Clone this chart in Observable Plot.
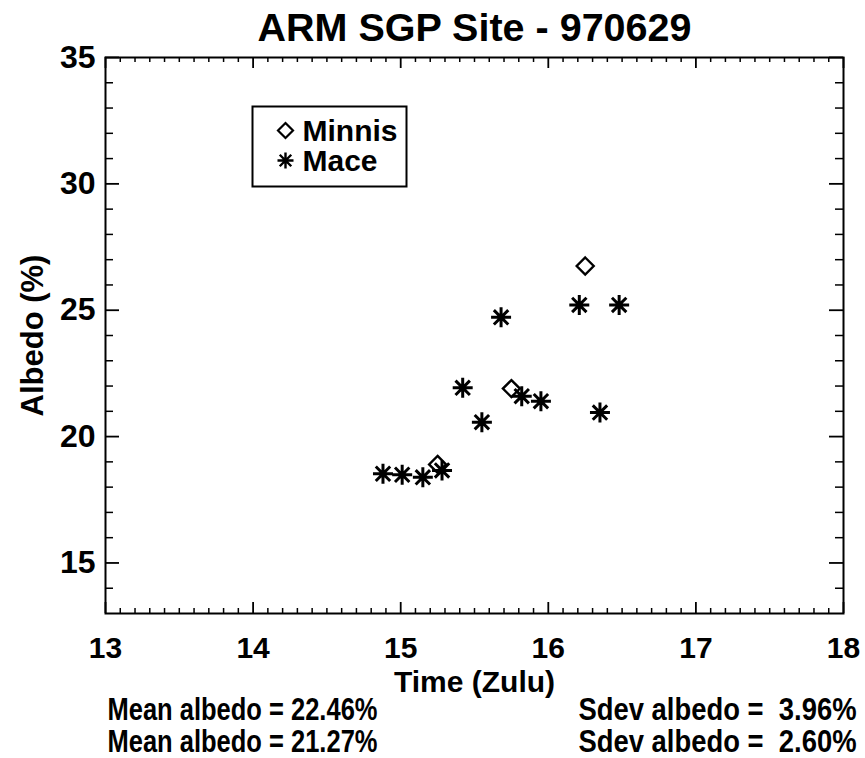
<!DOCTYPE html>
<html><head><meta charset="utf-8">
<script src="https://cdn.jsdelivr.net/npm/d3@7"></script>
<script src="https://cdn.jsdelivr.net/npm/@observablehq/plot@0.6"></script>
<style>
body{margin:0;background:#fff}
#chart svg{font-family:"Liberation Sans",Arial,Helvetica,sans-serif;background:#fff}
</style>
</head><body><div id="chart"></div>
<script>
// ---- data ----
const minnisTime   = [15.25, 15.75, 16.25];
const minnisAlbedo = [18.9, 21.9, 26.75];
const maceTime     = [14.88, 15.01, 15.15, 15.28, 15.42, 15.55, 15.68, 15.82, 15.95, 16.21, 16.35, 16.48];
const maceAlbedo   = [18.53, 18.49, 18.39, 18.66, 21.93, 20.57, 24.72, 21.60, 21.40, 25.21, 20.95, 25.21];
const xTicks = [13, 14, 15, 16, 17, 18];
const yTicks = [15, 20, 25, 30, 35];
const xMinorTicks = d3.range(131, 180).map(d => d / 10).filter(d => !xTicks.includes(d));
const yMinorTicks = [14, 16, 17, 18, 19, 21, 22, 23, 24, 26, 27, 28, 29, 31, 32, 33, 34];
const titleText = "ARM SGP Site - 970629";
const xLabel = "Time (Zulu)";
const yLabel = "Albedo (%)";
const seriesNames = ["Minnis", "Mace"];
const statsLeft  = ["Mean albedo = 22.46%", "Mean albedo = 21.27%"];
const statsRight = ["Sdev albedo = \u00A03.96%", "Sdev albedo = \u00A02.60%"];

const minnis = minnisTime.map((t, i) => ({t, a: minnisAlbedo[i]}));
const mace = maceTime.map((t, i) => ({t, a: maceAlbedo[i]}));

// ---- symbols ----
const asterisk = {draw(ctx, size) {
  const r = Math.sqrt(size / Math.PI);
  const d = r * 0.72;
  ctx.moveTo(-r, 0); ctx.lineTo(r, 0);
  ctx.moveTo(0, -r); ctx.lineTo(0, r);
  ctx.moveTo(-d, -d); ctx.lineTo(d, d);
  ctx.moveTo(-d, d); ctx.lineTo(d, -d);
}};
const diamond = {draw(ctx, size) {
  const r = Math.sqrt(size / Math.PI);
  ctx.moveTo(0, -r); ctx.lineTo(r, 0); ctx.lineTo(0, r); ctx.lineTo(-r, 0); ctx.closePath();
}};

const W = 865, H = 758, mL = 105, mR = 22, mT = 57, mB = 145;
const pW = W - mL - mR, pH = H - mT - mB;
const font = {fontWeight: "bold", fill: "black"};
const baseY = H - mB;

const chart = Plot.plot({
  width: W, height: H,
  marginLeft: mL, marginRight: mR, marginTop: mT, marginBottom: mB,
  x: {domain: [13, 18]},
  y: {domain: [13, 35]},
  marks: [
    Plot.frame({stroke: "black", strokeWidth: 2}),
    // major & minor ticks, inward on all four sides
    Plot.tickX(xTicks, {x: d => d, insetTop: pH - 11, stroke: "black", strokeWidth: 1.8}),
    Plot.tickX(xTicks, {x: d => d, insetBottom: pH - 11, stroke: "black", strokeWidth: 1.8}),
    Plot.tickX(xMinorTicks, {x: d => d, insetTop: pH - 5, stroke: "black", strokeWidth: 1.5}),
    Plot.tickX(xMinorTicks, {x: d => d, insetBottom: pH - 5, stroke: "black", strokeWidth: 1.5}),
    Plot.tickY(yTicks, {y: d => d, insetRight: pW - 14, stroke: "black", strokeWidth: 1.8}),
    Plot.tickY(yTicks, {y: d => d, insetLeft: pW - 14, stroke: "black", strokeWidth: 1.8}),
    Plot.tickY(yMinorTicks, {y: d => d, insetRight: pW - 8, stroke: "black", strokeWidth: 1.5}),
    Plot.tickY(yMinorTicks, {y: d => d, insetLeft: pW - 8, stroke: "black", strokeWidth: 1.5}),
    Plot.axisX({ticks: xTicks, tickFormat: "d", tickSize: 0, tickPadding: 23, fontSize: 30, ...font, label: null}),
    Plot.axisY({ticks: yTicks, tickFormat: "d", tickSize: 0, tickPadding: 10, fontSize: 32, ...font, label: null}),
    // data
    Plot.dot(minnis, {x: "t", y: "a", symbol: diamond, r: 8.5, stroke: "black", strokeWidth: 2.4, fill: "none"}),
    Plot.dot(mace, {x: "t", y: "a", symbol: asterisk, r: 10, stroke: "black", strokeWidth: 3}),
    // legend
    Plot.frame({insetLeft: 252 - mL, insetRight: W - mR - 406, insetTop: 106 - mT, insetBottom: H - mB - 186, stroke: "black", strokeWidth: 2}),
    Plot.dot([seriesNames[0]], {frameAnchor: "top-left", dx: 285 - mL, dy: 130 - mT, symbol: diamond, r: 7.5, stroke: "black", strokeWidth: 2.2, fill: "none"}),
    Plot.dot([seriesNames[1]], {frameAnchor: "top-left", dx: 285 - mL, dy: 160 - mT, symbol: asterisk, r: 8, stroke: "black", strokeWidth: 2.4}),
    Plot.text([seriesNames[0]], {text: d => d, frameAnchor: "top-left", dx: 302 - mL, dy: 140 - mT, lineAnchor: "bottom", textAnchor: "start", fontSize: 30, ...font}),
    Plot.text([seriesNames[1]], {text: d => d, frameAnchor: "top-left", dx: 302 - mL, dy: 170 - mT, lineAnchor: "bottom", textAnchor: "start", fontSize: 30, ...font}),
    // titles and labels
    Plot.text([titleText], {text: d => d, frameAnchor: "top", dy: 40 - mT, lineAnchor: "bottom", fontSize: 39.5, ...font}),
    Plot.text([xLabel], {text: d => d, frameAnchor: "bottom", dy: 691 - baseY, lineAnchor: "bottom", fontSize: 30, ...font}),
    Plot.text([yLabel], {text: d => d, frameAnchor: "left", dx: 42 - mL, rotate: -90, lineAnchor: "bottom", textAnchor: "middle", fontSize: 31, ...font}),
    Plot.text([statsLeft[0]], {text: d => d, frameAnchor: "bottom-left", dx: 107 - mL, dy: 719 - baseY, lineAnchor: "bottom", textAnchor: "start", fontSize: 31, ...font}),
    Plot.text([statsLeft[1]], {text: d => d, frameAnchor: "bottom-left", dx: 107 - mL, dy: 751 - baseY, lineAnchor: "bottom", textAnchor: "start", fontSize: 31, ...font}),
    Plot.text([statsRight[0]], {text: d => d, frameAnchor: "bottom-right", dx: 856 - (W - mR), dy: 719 - baseY, lineAnchor: "bottom", textAnchor: "end", fontSize: 31, ...font}),
    Plot.text([statsRight[1]], {text: d => d, frameAnchor: "bottom-right", dx: 856 - (W - mR), dy: 751 - baseY, lineAnchor: "bottom", textAnchor: "end", fontSize: 31, ...font})
  ]
});
chart.setAttribute("style", "background:#fff");
// condensed glyph widths as in the reference
chart.querySelectorAll("text").forEach(t => {
  const s = t.textContent;
  let L = null;
  if (statsLeft.includes(s)) L = 270;
  else if (statsRight.includes(s)) L = 278;
  if (L) { t.setAttribute("textLength", L); t.setAttribute("lengthAdjust", "spacingAndGlyphs"); }
});
document.getElementById("chart").appendChild(chart);
</script>
</body></html>
